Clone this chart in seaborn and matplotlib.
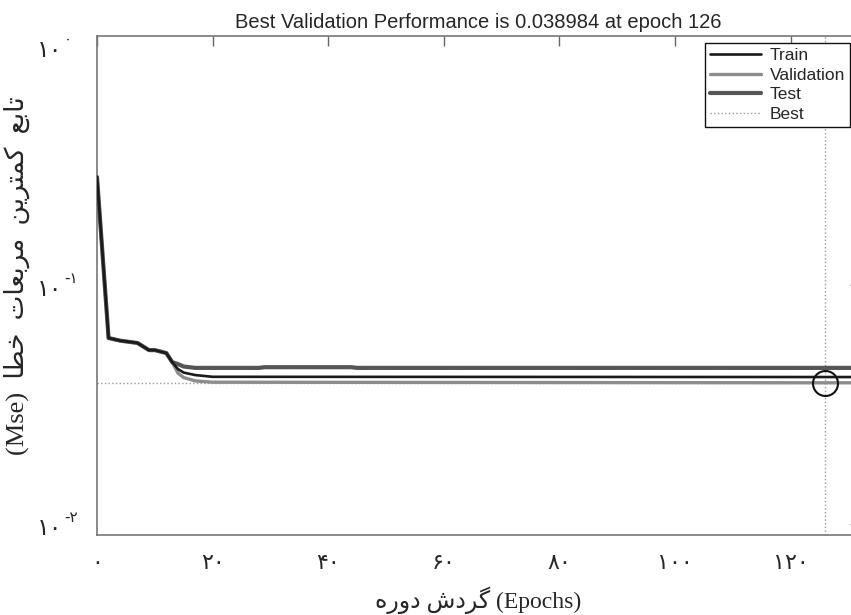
import matplotlib
matplotlib.use("Agg")
import matplotlib.pyplot as plt
import matplotlib.ticker as mticker
import seaborn as sns

# Performance curves: epoch breakpoints and mean squared error per data split
train_epochs = [0, 2, 4, 7, 9, 10, 12, 13, 14, 15, 17, 20, 132]
train_mse = [0.283, 0.060, 0.0585, 0.0572, 0.0534, 0.0534, 0.0519, 0.0476,
             0.0445, 0.0430, 0.0420, 0.0413, 0.0412]

valid_epochs = [0, 2, 4, 7, 9, 10, 12, 13, 14, 15, 17, 20, 126, 132]
valid_mse = [0.283, 0.060, 0.0585, 0.0572, 0.0534, 0.0534, 0.0519, 0.0476,
             0.0428, 0.0410, 0.0397, 0.0392, 0.038984, 0.03899]

test_epochs = [0, 2, 4, 7, 9, 10, 12, 13, 14, 15, 17, 28, 29, 44, 45, 132]
test_mse = [0.283, 0.060, 0.0585, 0.0572, 0.0534, 0.0534, 0.0519, 0.0476,
            0.0467, 0.0456, 0.0450, 0.0450, 0.0453, 0.0453, 0.0450, 0.0450]

best_epoch = 126
best_mse = 0.038984

x_ticks = [0, 20, 40, 60, 80, 100, 120]
x_tick_labels = ["۰", "۲۰", "۴۰", "۶۰", "۸۰", "۱۰۰", "۱۲۰"]
y_ticks = [1e-2, 1e-1, 1e0]
y_tick_bases = ["۱۰", "۱۰", "۱۰"]
y_tick_exponents = ["-۲", "-۱", "۰"]

title_text = "Best Validation Performance is 0.038984 at epoch 126"
# Persian labels written in visual (left-to-right) glyph order with joined forms
x_label = "\u0647\u0631\u0648\u062F \uFEB5\uFEA9\uFEAE\uFB94 (Epochs)"
y_label = ("(Mse)  \uFE8E\uFEC4\uFEA7  \uFE95\uFE8E\uFECC\uFE91\uFEAE\uFEE3  "
           "\uFEE6\uFBFE\uFEAE\uFE98\uFEE4\uFB90  \uFECA\uFE91\uFE8E\uFE97")

sns.set_theme(style="white")
plt.rcParams["font.family"] = ["Liberation Sans", "DejaVu Sans"]
label_family = ["Liberation Serif", "DejaVu Sans"]

fig = plt.figure(figsize=(8.51, 6.15), dpi=100)
ax = fig.add_axes([97 / 851, 80 / 615, 763 / 851, 499 / 615])

sns.lineplot(x=train_epochs, y=train_mse, ax=ax, color="#1a1a1a", lw=1.9,
             label="Train", zorder=4)
sns.lineplot(x=valid_epochs, y=valid_mse, ax=ax, color="#8c8c8c", lw=2.4,
             label="Validation", zorder=3)
sns.lineplot(x=test_epochs, y=test_mse, ax=ax, color="#555555", lw=3.0,
             label="Test", zorder=3)
ax.axvline(best_epoch, color="#9a9a9a", ls=":", lw=1, label="Best", zorder=2)
ax.axhline(best_mse, color="#9a9a9a", ls=":", lw=1, zorder=2)
ax.plot([best_epoch], [best_mse], marker="o", ms=18, mfc="none", mec="#111111",
        mew=1.5, ls="none", zorder=5)

ax.set_yscale("log")
ax.set_xlim(0, 132)
ax.set_ylim(0.009, 1.1)

ax.set_xticks(x_ticks)
ax.set_xticklabels(x_tick_labels, fontsize=16, family=["DejaVu Sans"])
ax.set_yticks(y_ticks)
ax.set_yticklabels([])
ax.yaxis.set_minor_locator(mticker.LogLocator(base=10, subs=range(2, 10)))
ax.yaxis.set_minor_formatter(mticker.NullFormatter())

# power-of-ten labels: base digits plus raised exponent
ytrans = ax.get_yaxis_transform()
for val, base, expo in zip(y_ticks, y_tick_bases, y_tick_exponents):
    ax.annotate(base, xy=(-0.046, val), xycoords=ytrans, xytext=(0, -3),
                textcoords="offset points", ha="right", va="center",
                fontsize=17, family=["DejaVu Sans"], annotation_clip=False)
    ax.annotate(expo, xy=(-0.043, val), xycoords=ytrans, xytext=(0, 5),
                textcoords="offset points", ha="left", va="center",
                fontsize=11, family=["DejaVu Sans"], annotation_clip=False)

ax.tick_params(which="both", direction="in", top=True, right=True,
               color="#666666", width=1)
ax.tick_params(which="major", length=7)
ax.tick_params(which="minor", length=4)
ax.tick_params(axis="x", pad=13)
for sp in ax.spines.values():
    sp.set_color("#777777")
    sp.set_linewidth(1.2)

ax.set_title(title_text, fontsize=14.5, pad=6)
ax.set_xlabel(x_label, fontsize=17, family=label_family)
ax.xaxis.set_label_coords(0.5, -0.104)
ax.set_ylabel(y_label, fontsize=19, family=label_family)
ax.yaxis.set_label_coords(-0.088, 0.52)

leg = ax.legend(loc="upper right", bbox_to_anchor=(0.987, 0.986), borderaxespad=0,
                fontsize=12.5, frameon=True, fancybox=False, edgecolor="#111111",
                handlelength=2.9, labelspacing=0.25, borderpad=0.3,
                handletextpad=0.5)
leg.get_frame().set_linewidth(1)
leg.get_frame().set_alpha(1)

fig.savefig("out.png", dpi=100)
